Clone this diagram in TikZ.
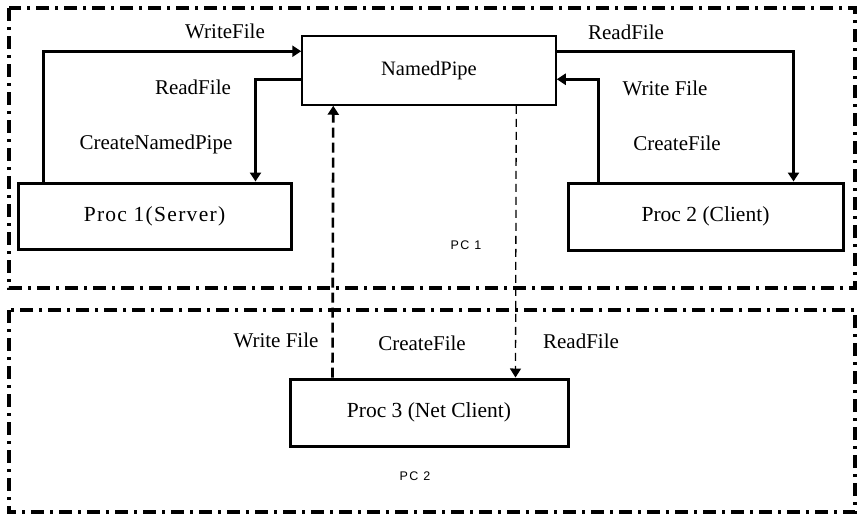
\documentclass[tikz,border=0pt]{standalone}
\usepackage{fontspec}
\setmainfont{Liberation Serif}
\newfontfamily\pcfont[LetterSpace=12]{Liberation Sans}
\usetikzlibrary{arrows.meta}

\tikzset{
  region/.style={line width=3.8pt, dash pattern=on 13pt off 6pt on 3pt off 6pt},
  procbox/.style={draw, line width=3pt, inner sep=0pt, font=\fontsize{21.5}{23}\selectfont},
  pipebox/.style={draw, line width=1.5pt, inner sep=0pt, font=\fontsize{20.5}{22}\selectfont},
  lbl/.style={inner sep=0pt, font=\fontsize{21}{23}\selectfont},
  pclbl/.style={inner sep=0pt, font=\pcfont\fontsize{12.5}{14}\selectfont},
  conn/.style={line width=3pt, -{Triangle[width=11pt,length=9pt]}},
  netup/.style={line width=2.6pt, dash pattern=on 10pt off 5pt, -{Triangle[width=11pt,length=9pt]}},
  netdown/.style={line width=1.3pt, dash pattern=on 8pt off 5pt, -{Triangle[width=11pt,length=9pt]}}
}

\begin{document}
\begin{tikzpicture}[x=1pt,y=-1pt]
\useasboundingbox[fill=white] (0,0) rectangle (860,520);

% the two machines
\draw[region] (9,8) rectangle (855,288);
\draw[region] (9,310) rectangle (855,512);

% processes and the pipe
\node[pipebox, minimum width=254pt, minimum height=69pt] (pipe) at (429,70.5) {NamedPipe};
\node[procbox, minimum width=273pt, minimum height=66pt] (p1) at (154.5,216) {\addfontfeature{LetterSpace=6}Proc 1(Server)};
\node[procbox, minimum width=275pt, minimum height=67pt] (p2) at (705.5,216.5) {Proc 2 (Client)};
\node[procbox, minimum width=278pt, minimum height=67pt] (p3) at (429,412.5) {Proc 3 (Net Client)};

% server side
\draw[conn] ([xshift=27pt]p1.north west) |- ([yshift=-16pt]pipe.north west);
\draw[conn] ([yshift=-44pt]pipe.north west) -| ([xshift=239pt]p1.north west);
% local client side
\draw[conn] ([yshift=-16pt]pipe.north east) -| ([xshift=227pt]p2.north west);
\draw[conn] ([xshift=32pt]p2.north west) |- ([yshift=-44pt]pipe.north east);
% network client
\draw[netup] ([xshift=44pt]p3.north west) -- ([xshift=32pt]pipe.south west);
\draw[netdown] ([xshift=215pt]pipe.south west) -- ([xshift=227pt]p3.north west);

% labels
\node[lbl] (l1) at (225,31) {WriteFile};
\node[lbl] (l2) at (193,87) {ReadFile};
\node[lbl] (l3) at (156,144) {CreateNamedPipe};
\node[lbl] (l4) at (626,32) {ReadFile};
\node[lbl] (l5) at (665,88) {Write File};
\node[lbl] (l6) at (677,143) {CreateFile};
\node[lbl] (l7) at (276,340) {Write File};
\node[lbl] (l8) at (422,343) {CreateFile};
\node[lbl] (l9) at (581,341) {ReadFile};
\node[pclbl] (pc1) at (466,245) {PC 1};
\node[pclbl] (pc2) at (415,476) {PC 2};
\end{tikzpicture}
\end{document}
